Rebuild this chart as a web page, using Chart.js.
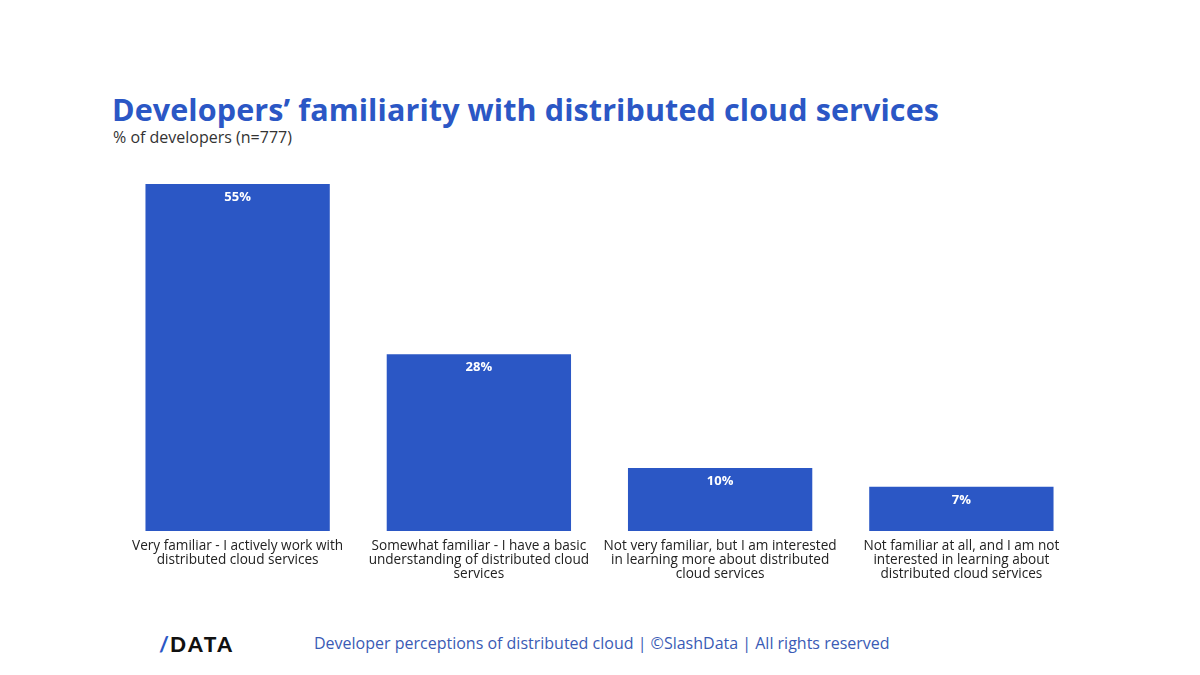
<!DOCTYPE html>
<html>
<head>
<meta charset="utf-8">
<script src="https://cdn.jsdelivr.net/npm/chart.js@4"></script>
<style>
  html, body { margin: 0; padding: 0; background: #fff; }
  #page { position: relative; width: 1200px; height: 675px; overflow: hidden; font-family: "Open Sans", sans-serif; }
  #title { position: absolute; left: 112px; top: 88px; font: 700 30.5px "Open Sans", sans-serif; color: #2b57c5; white-space: nowrap; letter-spacing: 0.1px; }
  #subtitle { position: absolute; left: 113px; top: 126px; font: 400 16px "Open Sans", sans-serif; color: #333; white-space: nowrap; }
  #chartBox { position: absolute; left: 0; top: 0; width: 1200px; height: 600px; }
  #logo { position: absolute; left: 159px; top: 631px; font: 900 21px Lato, sans-serif; color: #111; letter-spacing: 2.5px; }
  #logo span { color: #2b57c5; letter-spacing: 1px; }
  #footer { position: absolute; left: 314px; top: 632px; font: 400 16px "Open Sans", sans-serif; color: #3a5bb5; white-space: nowrap; }
</style>
</head>
<body>
<div id="page">
  <div id="title">Developers’ familiarity with distributed cloud services</div>
  <div id="subtitle">% of developers (n=777)</div>
  <div id="chartBox"><canvas id="chart"></canvas></div>
  <div id="logo"><span>/</span>DATA</div>
  <div id="footer">Developer perceptions of distributed cloud | ©SlashData | All rights reserved</div>
</div>
<script>
const categories = [
  ['Very familiar - I actively work with', 'distributed cloud services'],
  ['Somewhat familiar - I have a basic', 'understanding of distributed cloud', 'services'],
  ['Not very familiar, but I am interested', 'in learning more about distributed', 'cloud services'],
  ['Not familiar at all, and I am not', 'interested in learning about', 'distributed cloud services']
];
const shares = [55, 28, 10, 7];

// white % labels just under the top of each bar
const barLabels = {
  id: 'barLabels',
  afterDatasetsDraw(chart) {
    const c = chart.ctx;
    const meta = chart.getDatasetMeta(0);
    c.save();
    c.fillStyle = '#fff';
    c.font = '700 13px "Open Sans", sans-serif';
    c.textAlign = 'center';
    c.textBaseline = 'middle';
    meta.data.forEach((bar, i) => {
      c.fillText(shares[i] + '%', bar.x, bar.y + 13);
    });
    c.restore();
  }
};

const ctx = document.getElementById('chart').getContext('2d');
new Chart(ctx, {
  type: 'bar',
  data: {
    labels: categories,
    datasets: [{
      data: shares,
      backgroundColor: '#2b57c5',
      barPercentage: 0.764,
      categoryPercentage: 1
    }]
  },
  options: {
    responsive: true,
    maintainAspectRatio: false,
    animation: false,
    layout: { padding: { top: 184, left: 117, right: 118, bottom: 0 } },
    plugins: { legend: { display: false }, tooltip: { enabled: false } },
    scales: {
      x: {
        grid: { display: false },
        border: { display: false },
        ticks: {
          color: '#222',
          font: { family: 'Open Sans', size: 13.6, lineHeight: 1.03 },
          maxRotation: 0,
          autoSkip: false,
          padding: 0
        },
        afterFit: (s) => { s.height = 69; }
      },
      y: {
        display: false,
        min: 0,
        max: 55
      }
    }
  },
  plugins: [barLabels]
});
</script>
</body>
</html>
